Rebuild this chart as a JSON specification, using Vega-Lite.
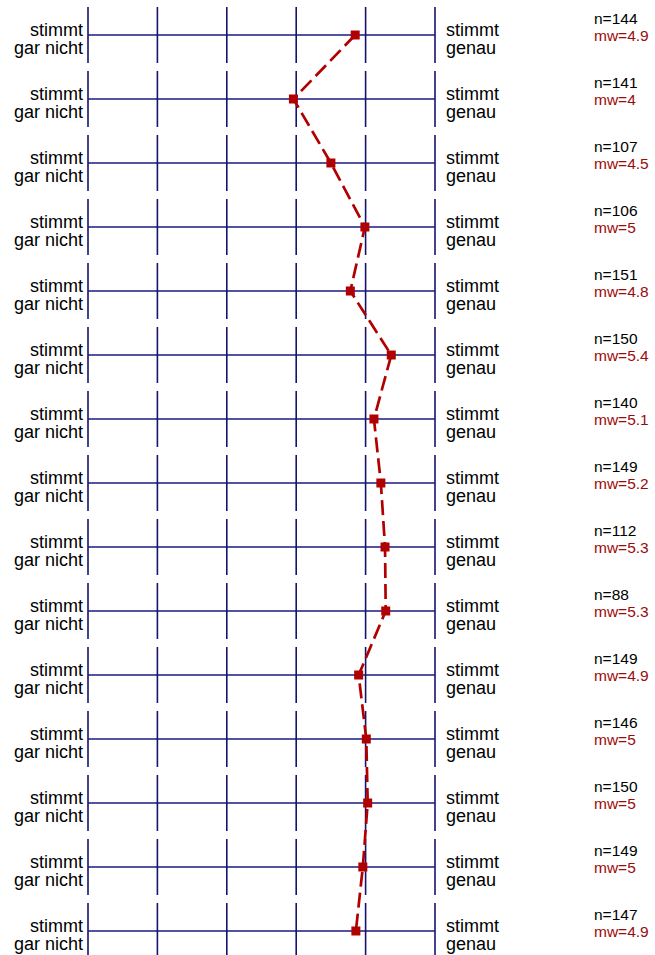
{
  "$schema": "https://vega.github.io/schema/vega-lite/v6.json",
  "width": 655,
  "height": 955,
  "autosize": "none",
  "padding": 0,
  "background": "white",
  "config": {"view": {"stroke": null}, "font": "Liberation Sans"},
  "data": {"values": [
    {"row": 1, "mw": 4.85, "mwLabel": "mw=4.9", "n": "n=144"},
    {"row": 2, "mw": 3.96, "mwLabel": "mw=4", "n": "n=141"},
    {"row": 3, "mw": 4.50, "mwLabel": "mw=4.5", "n": "n=107"},
    {"row": 4, "mw": 4.99, "mwLabel": "mw=5", "n": "n=106"},
    {"row": 5, "mw": 4.78, "mwLabel": "mw=4.8", "n": "n=151"},
    {"row": 6, "mw": 5.37, "mwLabel": "mw=5.4", "n": "n=150"},
    {"row": 7, "mw": 5.12, "mwLabel": "mw=5.1", "n": "n=140"},
    {"row": 8, "mw": 5.22, "mwLabel": "mw=5.2", "n": "n=149"},
    {"row": 9, "mw": 5.28, "mwLabel": "mw=5.3", "n": "n=112"},
    {"row": 10, "mw": 5.29, "mwLabel": "mw=5.3", "n": "n=88"},
    {"row": 11, "mw": 4.90, "mwLabel": "mw=4.9", "n": "n=149"},
    {"row": 12, "mw": 5.01, "mwLabel": "mw=5", "n": "n=146"},
    {"row": 13, "mw": 5.03, "mwLabel": "mw=5", "n": "n=150"},
    {"row": 14, "mw": 4.96, "mwLabel": "mw=5", "n": "n=149"},
    {"row": 15, "mw": 4.86, "mwLabel": "mw=4.9", "n": "n=147"}
  ]},
  "encoding": {
    "y": {"field": "row", "type": "quantitative", "axis": null,
          "scale": {"domain": [1, 15], "range": [35, 931], "nice": false, "zero": false}}
  },
  "layer": [
    {"mark": {"type": "rule", "color": "#1a1a80", "strokeWidth": 1.4},
     "encoding": {
       "x": {"datum": 1, "type": "quantitative", "axis": null,
             "scale": {"domain": [1, 6], "range": [88, 435], "nice": false, "zero": false}},
       "x2": {"datum": 6}
     }},
    {"mark": {"type": "rule", "color": "#14146e", "strokeWidth": 1.6, "yOffset": -28, "y2Offset": 28},
     "encoding": {"x": {"datum": 1, "type": "quantitative"}, "y2": {"field": "row"}}},
    {"mark": {"type": "rule", "color": "#14146e", "strokeWidth": 1.6, "yOffset": -28, "y2Offset": 28},
     "encoding": {"x": {"datum": 2, "type": "quantitative"}, "y2": {"field": "row"}}},
    {"mark": {"type": "rule", "color": "#14146e", "strokeWidth": 1.6, "yOffset": -28, "y2Offset": 28},
     "encoding": {"x": {"datum": 3, "type": "quantitative"}, "y2": {"field": "row"}}},
    {"mark": {"type": "rule", "color": "#14146e", "strokeWidth": 1.6, "yOffset": -28, "y2Offset": 28},
     "encoding": {"x": {"datum": 4, "type": "quantitative"}, "y2": {"field": "row"}}},
    {"mark": {"type": "rule", "color": "#14146e", "strokeWidth": 1.6, "yOffset": -28, "y2Offset": 28},
     "encoding": {"x": {"datum": 5, "type": "quantitative"}, "y2": {"field": "row"}}},
    {"mark": {"type": "rule", "color": "#14146e", "strokeWidth": 1.6, "yOffset": -28, "y2Offset": 28},
     "encoding": {"x": {"datum": 6, "type": "quantitative"}, "y2": {"field": "row"}}},
    {"mark": {"type": "text", "text": ["stimmt", "gar nicht"], "align": "right", "baseline": "alphabetic",
              "dx": -5, "dy": 1, "fontSize": 18, "lineHeight": 17.5, "color": "black"},
     "encoding": {"x": {"datum": 1, "type": "quantitative"}}},
    {"mark": {"type": "text", "text": ["stimmt", "genau"], "align": "left", "baseline": "alphabetic",
              "dx": 11, "dy": 1, "fontSize": 18, "lineHeight": 17.5, "color": "black"},
     "encoding": {"x": {"datum": 6, "type": "quantitative"}}},
    {"mark": {"type": "text", "align": "left", "baseline": "alphabetic",
              "dx": 159, "dy": -11, "fontSize": 15.5, "color": "black"},
     "encoding": {"x": {"datum": 6, "type": "quantitative"}, "text": {"field": "n"}}},
    {"mark": {"type": "text", "align": "left", "baseline": "alphabetic",
              "dx": 159, "dy": 6, "fontSize": 15.5, "color": "#9a0b0b"},
     "encoding": {"x": {"datum": 6, "type": "quantitative"}, "text": {"field": "mwLabel"}}},
    {"mark": {"type": "line", "color": "#b00000", "strokeWidth": 2.7, "strokeDash": [15, 6]},
     "encoding": {"x": {"field": "mw", "type": "quantitative"}, "order": {"field": "row"}}},
    {"mark": {"type": "point", "shape": "square", "filled": true, "size": 81, "color": "#b00000", "opacity": 1},
     "encoding": {"x": {"field": "mw", "type": "quantitative"}}}
  ]
}
